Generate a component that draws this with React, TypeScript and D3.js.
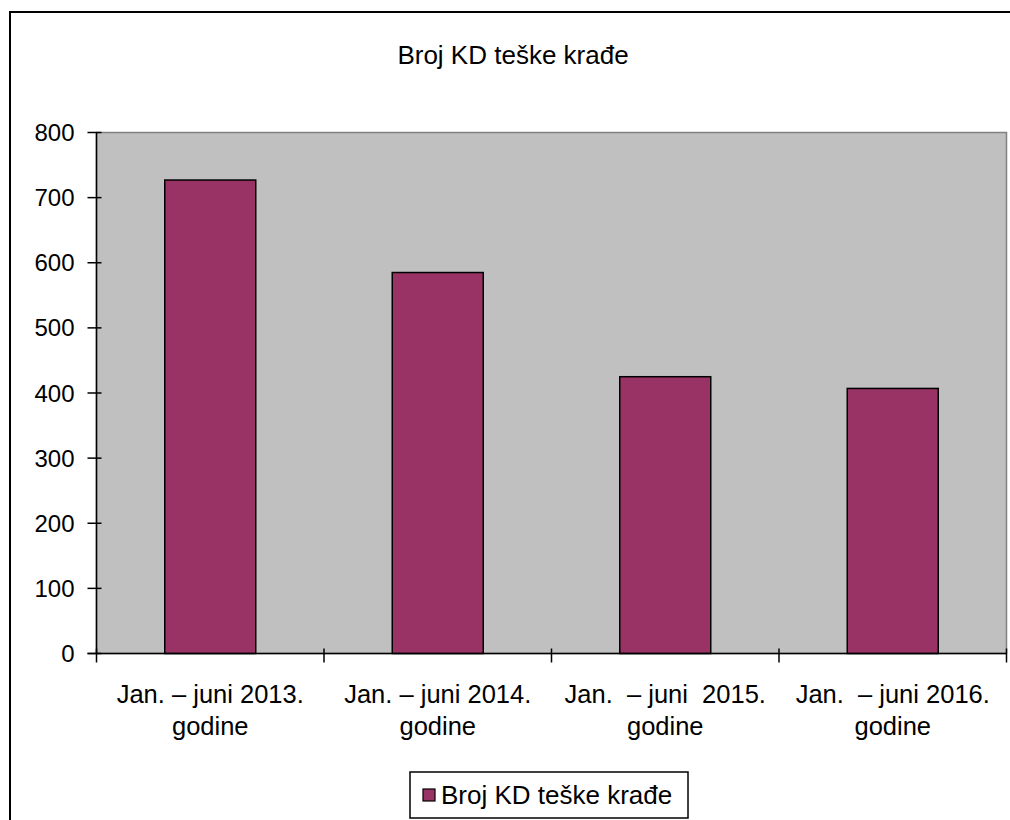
import React from "react";
import { scaleBand, scaleLinear } from "d3";

const categories = [
  ["Jan. – juni 2013.", "godine"],
  ["Jan. – juni 2014.", "godine"],
  ["Jan.  – juni  2015.", "godine"],
  ["Jan.  – juni 2016.", "godine"],
];
const values = [727, 585, 425, 407];
const yTicks = [0, 100, 200, 300, 400, 500, 600, 700, 800];
const seriesName = "Broj KD teške krađe";
const title = "Broj KD teške krađe";

const width = 1010;
const height = 820;
const plot = { left: 96.5, right: 1006.5, top: 132.5, bottom: 653.5 };
const font = "'Liberation Sans', Arial, sans-serif";
const barColor = "#993366";

export default function App() {
  const x = scaleBand<number>()
    .domain(values.map((_, i) => i))
    .range([plot.left, plot.right])
    .paddingInner(0.6)
    .paddingOuter(0.3);
  const y = scaleLinear().domain([0, 800]).range([plot.bottom, plot.top]);
  const step = x.step();
  const boundaries = [0, 1, 2, 3, 4].map((i) => plot.left + i * step);

  return (
    <svg
      width={width}
      height={height}
      style={{ position: "absolute", left: 0, top: 0, background: "#fff" }}
      fontFamily={font}
    >
      {/* outer chart frame, runs off the right and bottom edge */}
      <rect x={10} y={12} width={1100} height={900} fill="#fff" stroke="#000" strokeWidth={2} />

      <text x={513} y={64} textAnchor="middle" fontSize={26} fill="#000">
        {title}
      </text>

      {/* plot area */}
      <rect
        x={plot.left}
        y={plot.top}
        width={plot.right - plot.left}
        height={plot.bottom - plot.top}
        fill="#c0c0c0"
        stroke="#808080"
        strokeWidth={1.5}
      />

      {values.map((v, i) => (
        <rect
          key={i}
          x={x(i)}
          y={y(v)}
          width={x.bandwidth()}
          height={y(0) - y(v)}
          fill={barColor}
          stroke="#000"
          strokeWidth={1.5}
        />
      ))}

      {/* y axis */}
      <line x1={plot.left} x2={plot.left} y1={plot.top} y2={plot.bottom} stroke="#000" strokeWidth={1.5} />
      {yTicks.map((t) => (
        <g key={t}>
          <line x1={plot.left - 9} x2={plot.left + 5} y1={y(t)} y2={y(t)} stroke="#000" strokeWidth={1.5} />
          <text x={plot.left - 22} y={y(t) + 8.5} textAnchor="end" fontSize={24} fill="#000">
            {t}
          </text>
        </g>
      ))}

      {/* x axis */}
      <line x1={plot.left - 9} x2={plot.right} y1={plot.bottom} y2={plot.bottom} stroke="#000" strokeWidth={1.5} />
      {boundaries.map((bx, i) => (
        <line key={i} x1={bx} x2={bx} y1={plot.bottom - 5} y2={plot.bottom + 9} stroke="#000" strokeWidth={1.5} />
      ))}
      {categories.map((lines, i) => (
        <text
          key={i}
          x={(x(i) ?? 0) + x.bandwidth() / 2}
          textAnchor="middle"
          fontSize={25.5}
          fill="#000"
          style={{ whiteSpace: "pre" }}
        >
          {lines.map((l, j) => (
            <tspan key={j} x={(x(i) ?? 0) + x.bandwidth() / 2} y={703 + j * 32}>
              {l}
            </tspan>
          ))}
        </text>
      ))}

      {/* legend */}
      <rect x={410} y={772} width={278} height={46} fill="#fff" stroke="#000" strokeWidth={1.5} />
      <rect x={423} y={789} width={12} height={12} fill={barColor} stroke="#000" strokeWidth={1.2} />
      <text x={441} y={804} fontSize={26} fill="#000">
        {seriesName}
      </text>
    </svg>
  );
}
